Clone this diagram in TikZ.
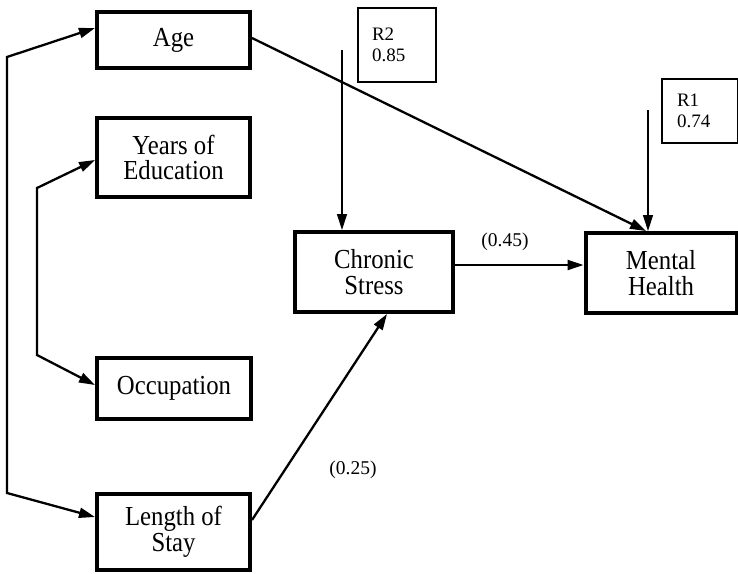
\documentclass[tikz,border=0pt]{standalone}
\usepackage{fontspec}
\setmainfont{Liberation Serif}
\newfontfamily\boxfont{Liberation Serif}[FakeStretch=0.9]
\usetikzlibrary{arrows.meta}
\begin{document}
\begin{tikzpicture}[x=1pt,y=-1pt,
  var/.style={draw, line width=4pt, align=center, inner sep=0pt,
    font=\boxfont\fontsize{27.5}{25.5}\selectfont},
  rbox/.style={draw, line width=1.2pt, align=left, inner sep=0pt,
    font=\fontsize{19}{21}\selectfont},
  arr/.style={line width=2.3pt, -{Triangle[length=16pt,width=10pt]}},
  dbl/.style={line width=2.3pt, {Triangle[length=16pt,width=10pt]}-{Triangle[length=16pt,width=10pt]}},
  thin/.style={line width=1.3pt, -{Triangle[length=16pt,width=10pt]}},
  lab/.style={font=\fontsize{19.5}{21}\selectfont, inner sep=0pt}]
\useasboundingbox (0,0) rectangle (738,573);
\node[var, minimum width=153pt, minimum height=56pt] (age) at (173.5,40) {Age};
\node[var, minimum width=153pt, minimum height=79pt] (edu) at (173.5,157.5) {Years of\\Education};
\node[var, minimum width=154pt, minimum height=61pt] (occ) at (174,388.5) {Occupation};
\node[var, minimum width=153pt, minimum height=76pt] (len) at (173.5,532) {Length of\\Stay};
\node[var, minimum width=158pt, minimum height=80pt] (cs) at (374,272) {Chronic\\Stress};
\node[var, minimum width=151pt, minimum height=80pt] (mh) at (661,273) {Mental\\Health};
\node[rbox, minimum width=78pt, minimum height=74pt, text width=50pt, inner xsep=14pt] (r2) at (397,45) {R2\\0.85};
\node[rbox, minimum width=75pt, minimum height=64pt, text width=46pt, inner xsep=15pt] (r1) at (700,111) {R1\\0.74};
\coordinate (b1t) at (7,57);
\coordinate (b1b) at (7,493);
\coordinate (b2t) at (37,188);
\coordinate (b2b) at (37,355);
\coordinate (r2s) at (342,50);
\coordinate (r1s) at (648,110);
\draw[dbl] ([yshift=12pt]age.west) -- (b1t) -- (b1b) -- ([yshift=15pt]len.west);
\draw[dbl] ([yshift=-2.5pt]edu.west) -- (b2t) -- (b2b) -- ([yshift=3.5pt]occ.west);
\draw[arr] ([yshift=2pt]age.east) -- ([xshift=-15pt]mh.north);
\draw[thin] (r2s) -- (r2s |- cs.north);
\draw[thin] (r1s) -- (r1s |- mh.north);
\draw[arr] ([yshift=7pt]cs.east) -- ([yshift=7pt]cs.east -| mh.west);
\draw[arr] ([yshift=12pt]len.east) -- ([xshift=13pt]cs.south);
\node[lab] (l45) at (505,242) {(0.45)};
\node[lab] (l25) at (353,470) {(0.25)};
\end{tikzpicture}
\end{document}
